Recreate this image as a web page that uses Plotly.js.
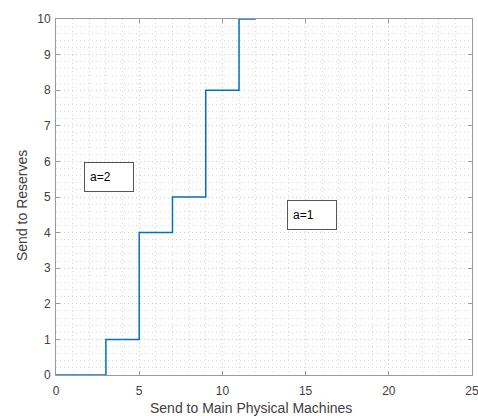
<!DOCTYPE html>
<html>
<head>
<meta charset="utf-8">
<script src="https://cdn.plot.ly/plotly-3.0.1.min.js"></script>
<style>html,body{margin:0;padding:0;background:#fff;}#chart{width:478px;height:416px;}</style>
</head>
<body>
<div id="chart"></div>
<script>
// Step-curve breakpoints (step drawn 'hv')
const sendMain = [0, 3, 5, 7, 9, 11, 12];
const sendReserves = [0, 1, 4, 5, 8, 10, 10];

// Region labels
const labelText = ["a=2", "a=1"];
const labelX = [3.2, 15.4];
const labelY = [5.56, 4.5];

const xTicks = [0, 5, 10, 15, 20, 25];
const yTicks = [0, 1, 2, 3, 4, 5, 6, 7, 8, 9, 10];

const xTitle = "Send to Main Physical Machines";
const yTitle = "Send to Reserves";

const axisColor = "#9a9a9a";
const textColor = "#404040";
const fam = "Liberation Sans, Arial, sans-serif";
const tickFont = {family: fam, size: 12, color: textColor};
const titleFont = {family: fam, size: 14, color: textColor};
const gridDash = "1px,3px";

const trace = {
  x: sendMain,
  y: sendReserves,
  mode: "lines",
  line: {shape: "hv", color: "#0072BD", width: 1.5},
  hoverinfo: "skip",
  showlegend: false
};

const annotations = labelText.map((t, i) => ({
  x: labelX[i], y: labelY[i], xref: "x", yref: "y",
  text: t, showarrow: false,
  font: {family: fam, size: 12, color: "#000"},
  bordercolor: "#555", borderwidth: 1, borderpad: 5,
  bgcolor: "#fff", width: 38, height: 18, align: "left"
}));
annotations.push({
  x: 0.469, y: -0.0927, xref: "paper", yref: "paper",
  text: xTitle, showarrow: false, font: titleFont,
  xanchor: "center", yanchor: "middle"
});
annotations.push({
  x: -0.0817, y: 0.4747, xref: "paper", yref: "paper",
  text: yTitle, showarrow: false, font: titleFont, textangle: -90,
  xanchor: "center", yanchor: "middle"
});

const axisCommon = {
  showline: true, linecolor: axisColor, linewidth: 1, mirror: "ticks",
  ticks: "inside", ticklen: 4, tickcolor: axisColor,
  showgrid: true, gridcolor: "#cfcfcf", griddash: gridDash, gridwidth: 1,
  zeroline: false, tickfont: tickFont, ticklabeloverflow: "allow"
};

const layout = {
  width: 478, height: 416,
  margin: {l: 56, r: 6, t: 19, b: 41},
  paper_bgcolor: "#fff", plot_bgcolor: "#fff",
  xaxis: Object.assign({}, axisCommon, {
    range: [0, 25], tickvals: xTicks, ticktext: xTicks.map(String),
    ticklabelstandoff: 5,
    minor: {dtick: 1, showgrid: true, gridcolor: "#dadada", griddash: gridDash, gridwidth: 1, ticks: ""}
  }),
  yaxis: Object.assign({}, axisCommon, {
    range: [0, 10], tickvals: yTicks, ticktext: yTicks.map(String),
    ticklabelstandoff: 2,
    minor: {dtick: 0.2, showgrid: true, gridcolor: "#dadada", griddash: gridDash, gridwidth: 1, ticks: ""}
  }),
  annotations: annotations
};

Plotly.newPlot("chart", [trace], layout, {staticPlot: true});
</script>
</body>
</html>
